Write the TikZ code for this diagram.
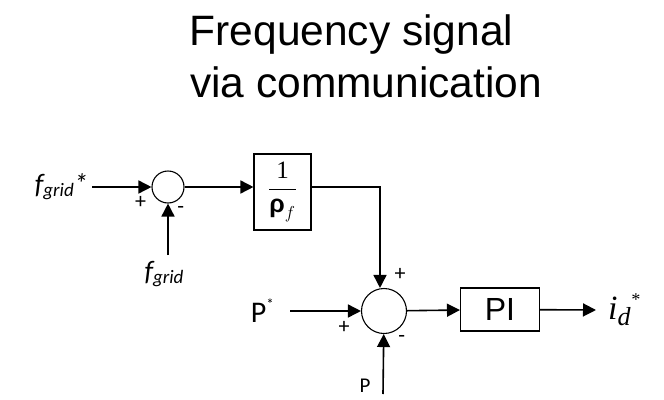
\documentclass[tikz,border=0pt]{standalone}
\usepackage{fontspec}
\usepackage{amsmath}
\setmainfont{Liberation Sans}
\newfontfamily\lblfont{Carlito}
\newfontfamily\serfont{Liberation Serif}
\usetikzlibrary{positioning,arrows.meta}

\begin{document}
\begin{tikzpicture}[
        x=1pt, y=-1pt,
        >={Triangle[length=13pt,width=13pt]},
        sumnode/.style={draw, circle, line width=1.1pt, inner sep=0pt},
        blocknode/.style={draw, rectangle, line width=1.1pt, inner sep=0pt},
        lbl/.style={inner sep=0pt, font=\lblfont\fontsize{28}{28}\selectfont},
        sgn/.style={inner sep=0pt, font=\lblfont\fontsize{22}{22}\selectfont},
        titletext/.style={inner sep=0pt, anchor=base west, font=\fontsize{42.5}{42.5}\selectfont},
        sig/.style={->, line width=1.6pt}
    ]
        \useasboundingbox (0,0) rectangle (664,399);

        % title
        \node[titletext] (title1) at (189.5,45.5) {Frequency signal};
        \node[titletext] (title2) at (190,97) {via communication};

        % frequency loop
        \node[sumnode, minimum size=32pt] (sum1) at (168,187) {};
        \node[blocknode, minimum width=57pt, minimum height=76pt] (droop) at (282.5,192)
            {\fontsize{25}{25}\selectfont$\dfrac{\text{\serfont 1}}{\text{\bfseries ρ}_f}$};
        \coordinate (fin) at (92,187);
        \coordinate (fmeas) at (168,255);
        \node[lbl, left=4pt of fin] (finl)
            {\itshape f\raisebox{-3pt}{\fontsize{19}{19}\selectfont grid}*};
        \node[lbl, below=6pt of fmeas, xshift=-4pt] (fmeasl)
            {\itshape f\raisebox{-3pt}{\fontsize{19}{19}\selectfont grid}};
        \node[sgn] (s1plus) at (140.5,202.5) {+};
        \node[sgn] (s1minus) at (180.7,210) {-};

        % power loop
        \node[sumnode, minimum size=45pt] (sum2) at (384,311) {};
        \node[blocknode, minimum width=79pt, minimum height=43pt,
              font=\fontsize{32}{32}\selectfont] (pi) at (500,309.5) {PI};
        \coordinate (pin) at (290,311);
        \coordinate (pmeas) at (383,394);
        \coordinate (out) at (596,310);
        \node[lbl, left=16pt of pin, font=\lblfont\fontsize{30}{30}\selectfont] (pinl)
            {P\raisebox{13pt}{\fontsize{15}{15}\selectfont *}};
        \node[lbl, anchor=south, font=\lblfont\fontsize{21}{21}\selectfont] (pmeasl) at (365,393) {P};
        \node[inner sep=0pt, right=12pt of out, font=\serfont\itshape\fontsize{34}{34}\selectfont] (outl)
            {i\raisebox{-6pt}{\fontsize{26}{26}\selectfont d}\raisebox{14pt}{\fontsize{18}{18}\selectfont *}};
        \node[sgn] (s2top) at (400,274) {+};
        \node[sgn] (s2left) at (344,327.5) {+};
        \node[sgn] (s2minus) at (401.7,339) {-};

        % connections
        \draw[sig] (fin) -- (sum1);
        \draw[sig] (fmeas) -- (sum1);
        \draw[sig] (sum1) -- (sum1 -| droop.west);
        \draw[sig] (droop.east |- sum1) -| ([xshift=-4pt]sum2.north);
        \draw[sig] (pin) -- (sum2);
        \draw[sig] (pmeas) -- (sum2);
        \draw[sig] (sum2) -- (pi);
        \draw[sig] (pi) -- (out);
    \end{tikzpicture}
\end{document}
